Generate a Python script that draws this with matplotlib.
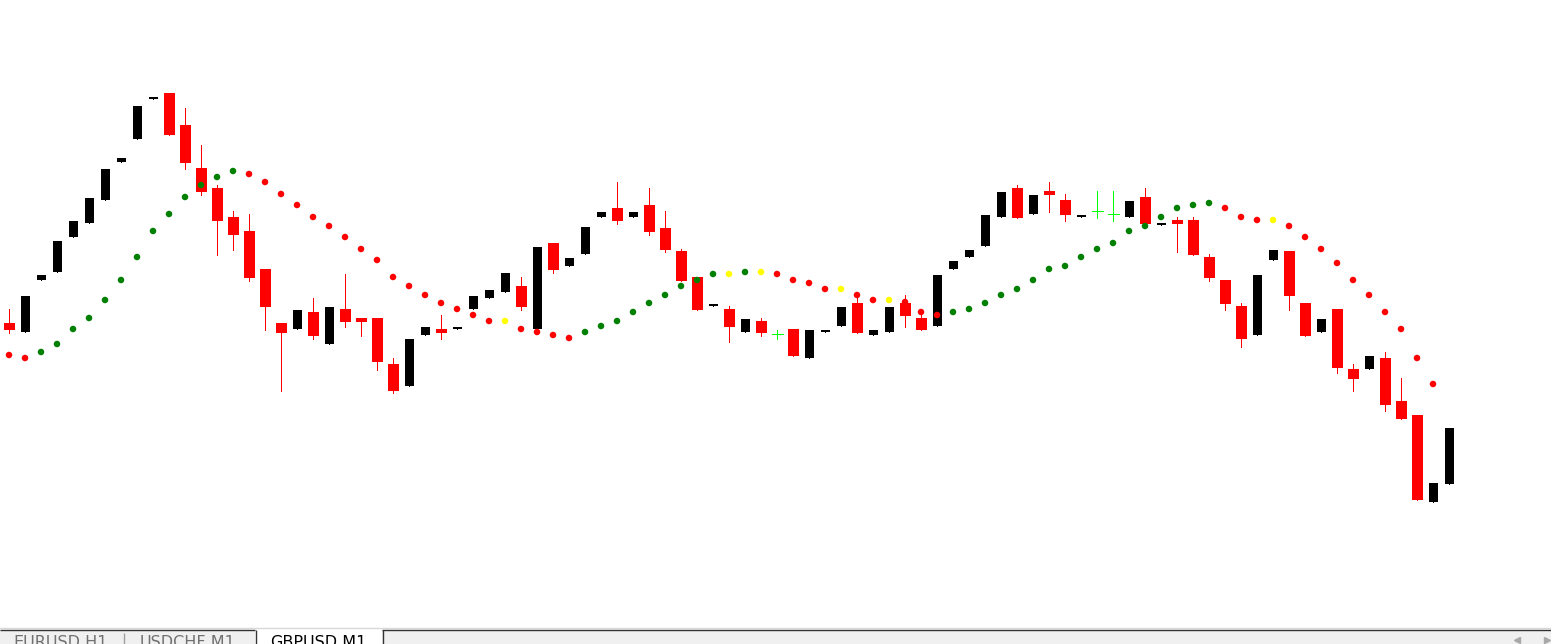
import numpy as np
import matplotlib.pyplot as plt

# === GBPUSD,M1 bars (points above BASE) ===
BASE = 1.26000
POINT = 0.00001

opens = [277, 268, 320, 328, 363, 377, 400, 438, 461, 501,
         507, 475, 432, 412, 383, 369, 331, 277, 271, 288,
         256, 291, 282, 282, 236, 214, 265, 271, 271, 291,
         302, 308, 314, 271, 357, 334, 346, 383, 392, 383,
         395, 372, 349, 323, 294, 291, 268, 279, 266, 271,
         242, 268, 274, 297, 265, 268, 297, 282, 274, 331,
         343, 354, 383, 412, 386, 409, 400, 383, 389, 386,
         383, 403, 375, 380, 380, 343, 320, 294, 265, 340,
         349, 297, 268, 291, 231, 231, 242, 199, 185, 98, 116]
highs = [291, 304, 325, 359, 379, 402, 431, 442, 494, 503,
         507, 492, 455, 415, 389, 386, 331, 277, 290, 302,
         293, 326, 282, 282, 242, 261, 273, 285, 273, 304,
         310, 327, 323, 353, 357, 342, 373, 388, 418, 388,
         412, 389, 351, 323, 296, 294, 281, 282, 270, 271,
         270, 270, 293, 303, 270, 293, 305, 288, 325, 339,
         350, 385, 408, 415, 405, 418, 406, 385, 409, 409,
         399, 412, 376, 383, 383, 346, 320, 297, 325, 350,
         349, 297, 281, 291, 236, 244, 248, 222, 185, 117, 172]
lows = [267, 268, 320, 328, 363, 377, 400, 438, 461, 501,
        465, 431, 405, 345, 350, 319, 270, 209, 271, 261,
        256, 273, 264, 230, 207, 214, 265, 261, 271, 291,
        302, 308, 290, 271, 327, 334, 346, 383, 376, 383,
        365, 348, 319, 290, 294, 258, 268, 264, 261, 244,
        242, 268, 274, 267, 265, 268, 273, 270, 274, 331,
        343, 354, 383, 382, 386, 388, 379, 383, 382, 379,
        383, 376, 375, 348, 345, 319, 290, 253, 265, 340,
        290, 264, 268, 227, 209, 231, 189, 181, 100, 98, 116]
closes = [270, 304, 325, 359, 379, 402, 431, 442, 494, 503,
          465, 437, 408, 379, 365, 322, 293, 267, 290, 264,
          293, 278, 278, 238, 209, 261, 273, 267, 273, 304,
          310, 327, 293, 353, 330, 342, 373, 388, 379, 388,
          368, 350, 319, 290, 296, 273, 281, 267, 266, 244,
          270, 270, 293, 267, 270, 293, 284, 270, 325, 339,
          350, 385, 408, 382, 405, 405, 385, 385, 389, 386,
          399, 376, 376, 376, 345, 322, 296, 261, 325, 350,
          304, 264, 281, 232, 221, 244, 195, 181, 100, 117, 172]

# === trend dots (no value on the current bar) ===
dots = [245, 242, 248, 256, 271, 282, 300, 320, 343, 369,
        386, 403, 415, 423, 429, 426, 418, 406, 395, 383,
        374, 363, 351, 340, 323, 314, 305, 297, 291, 285,
        279, 279, 271, 268, 265, 262, 268, 274, 279, 288,
        297, 305, 314, 320, 326, 326, 328, 328, 326, 320,
        317, 311, 311, 305, 300, 300, 298, 288, 285, 288,
        291, 297, 305, 311, 320, 331, 334, 343, 351, 357,
        369, 374, 383, 392, 395, 397, 392, 383, 380, 380,
        374, 363, 351, 337, 320, 305, 288, 271, 242, 216]
dot_states = ("rr ggggggggggggg rrrrrrrrrrrrrrrr y rrrr ggggggggg y g y rrrr "
              "y rr y rrr ggggggggggggggggg rrr y rrrrrrrrrr").replace(" ", "")

tabs = ["EURUSD,H1", "USDCHF,M1", "GBPUSD,M1"]

RED, BLACK, LIME = "#FF0000", "#000000", "#00FF00"
DOT_COL = {"r": "#FF0000", "g": "#008000", "y": "#FFFF00"}

W, H = 1551, 644
fig = plt.figure(figsize=(W / 100, H / 100), dpi=100)
fig.patch.set_facecolor("white")

# === chart area ===
ax = fig.add_axes([0, 16 / H, 1, 628 / H])
ax.set_xlim(-9 / 16, (W - 9) / 16)
ax.set_ylim(BASE - 28 * POINT, BASE + 600 * POINT)
ax.axis("off")

o = BASE + np.array(opens) * POINT
hi = BASE + np.array(highs) * POINT
lo = BASE + np.array(lows) * POINT
c = BASE + np.array(closes) * POINT
x = np.arange(len(o))
bull = np.array(closes) > np.array(opens)
bear = np.array(closes) < np.array(opens)
doji = np.array(closes) == np.array(opens)

lw = 0.72  # 1 px
ax.vlines(x[bear], lo[bear], hi[bear], color=RED, lw=lw, antialiased=False)
ax.bar(x[bear], np.maximum(o - c, 2 * POINT)[bear], bottom=c[bear],
       width=11 / 16, color=RED, linewidth=0)
ax.vlines(x[bull], lo[bull], hi[bull], color=BLACK, lw=lw, antialiased=False)
ax.bar(x[bull], np.maximum(c - o, 2 * POINT)[bull], bottom=o[bull],
       width=9 / 16, color=BLACK, linewidth=0)
ax.vlines(x[doji], lo[doji], hi[doji], color=LIME, lw=lw, antialiased=False)
ax.hlines(c[doji], x[doji] - 5.5 / 16, x[doji] + 5.5 / 16, color=LIME, lw=lw,
          antialiased=False)

dx = np.arange(len(dots))
ax.scatter(dx, BASE + np.array(dots) * POINT, c=[DOT_COL[s] for s in dot_states],
           s=22, linewidths=0, zorder=3)

# === terminal tab bar ===
tb = fig.add_axes([0, 0, 1, 17 / H])
tb.set_xlim(0, W)
tb.set_ylim(644, 627)
tb.axis("off")
tb.axhspan(629.5, 644, color="#F0F0F0", lw=0)
tb.axhspan(629.5, 644, xmin=255 / W, xmax=382 / W, color="white", lw=0)
tb.axhline(627.5, color="#D8D8D8", lw=1)
tb.hlines(629.5, 0, 255, color="#333333", lw=1)
tb.hlines(629.5, 382, W, color="#333333", lw=1)
tb.vlines([255.5, 382.5], 629.5, 644, color="#333333", lw=1)
tb.vlines(123.5, 633, 644, color="#A0A0A0", lw=1)

tab_x = [13, 140, 270]
for name, tx in zip(tabs, tab_x):
    col = "black" if name == "GBPUSD,M1" else "#707070"
    tb.text(tx, 635.0, name, fontsize=11.5, color=col, va="top", ha="left",
            family="DejaVu Sans", clip_on=True)

tb.plot([1517], [640], marker="<", color="#A8A8A8", ms=5, clip_on=True)
tb.plot([1547], [640], marker=">", color="#A8A8A8", ms=5, clip_on=True)

fig.savefig("out.png", dpi=100)
